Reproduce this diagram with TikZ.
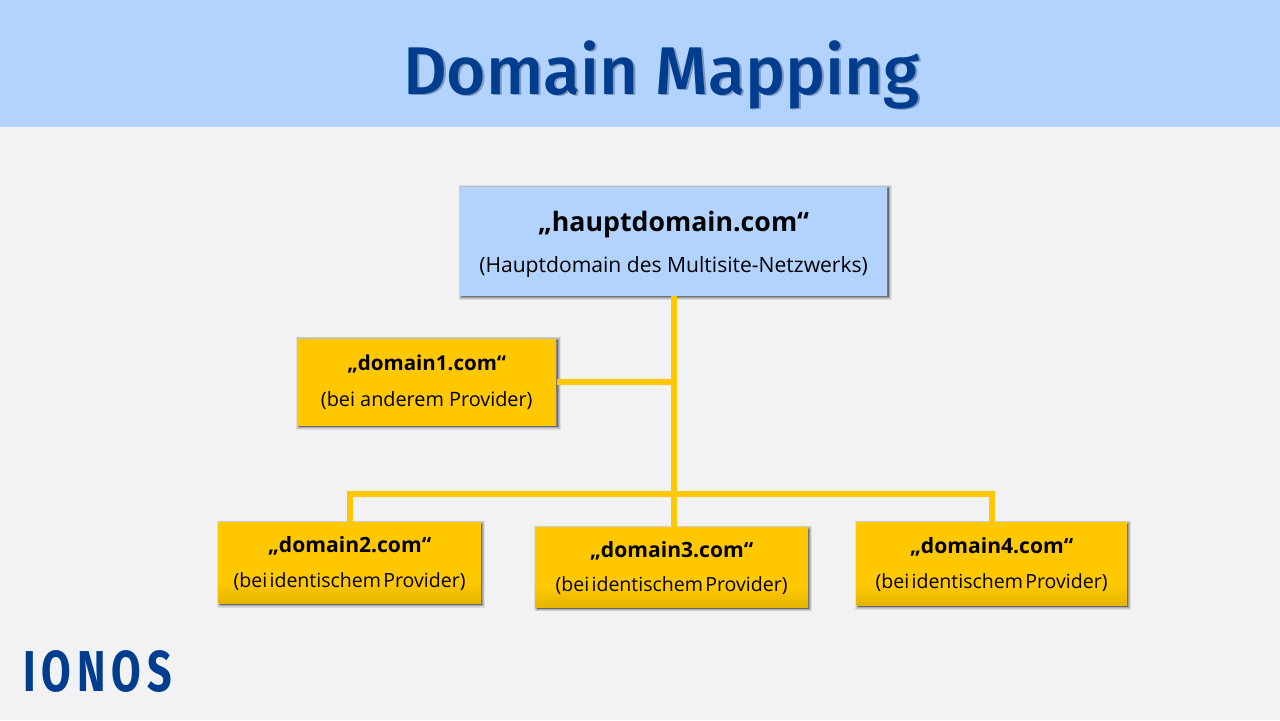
\documentclass[tikz,border=0pt]{standalone}
\usepackage{fontspec}
\usepackage{xcolor}
\usetikzlibrary{calc,positioning}
\setmainfont{Open Sans}
\newfontfamily\titlefont{Fira Sans Medium}
\newfontfamily\logofont[LetterSpace=14]{Fira Sans}
\newfontfamily\tightfont[WordSpace=0.45]{Open Sans}
\definecolor{pagegray}{HTML}{F2F2F4}
\definecolor{headblue}{HTML}{B3D3FF}
\definecolor{ionosblue}{HTML}{003D8F}
\definecolor{shadeblue}{HTML}{7F97BC}
\definecolor{linkyellow}{HTML}{FFC800}
\pgfdeclareverticalshading{yellowfade}{100bp}{color(0bp)=(linkyellow!90!black); color(25bp)=(linkyellow!90!black); color(38bp)=(linkyellow); color(100bp)=(linkyellow)}

\begin{document}
\begin{tikzpicture}[auto]
	\tikzstyle{softedge} = [preaction={draw=black, fill=black, opacity=0.08, line width=#1, transform canvas={xshift=0.04cm, yshift=-0.02cm}}]
	\tikzstyle{hauptbox} = [rectangle, softedge=0.14cm, softedge=0.11cm, softedge=0.08cm, softedge=0.05cm, softedge=0.02cm, fill=headblue, align=center, inner sep=0pt, text=black]
	\tikzstyle{block} = [hauptbox, fill=linkyellow]
	\tikzstyle{fadeblock} = [block, shade, shading=yellowfade]
	\tikzstyle{link} = [draw=linkyellow, line width=0.15cm]

	\useasboundingbox (0,0) rectangle (32,18);
	\fill [pagegray] (0,0) rectangle (32,18);
	\fill [headblue] (0,14.82) rectangle (32,18);

	\node [text=shadeblue, font=\titlefont\fontsize{48}{48}\selectfont] (titleshade) at (16.59,16.09) {Domain Mapping};
	\node [text=ionosblue, font=\titlefont\fontsize{48}{48}\selectfont] (title) at (16.54,16.13) {Domain Mapping};
	\node [text=ionosblue, font=\logofont\fontsize{41}{41}\selectfont\bfseries, xscale=0.745, inner sep=0pt] (ionos) at (2.44,1.2) {IONOS};

	\node [hauptbox, minimum width=10.68cm, minimum height=2.73cm] (haupt) at (16.84,11.96) {\rule{0pt}{18pt}\fontsize{19}{19}\selectfont\bfseries „hauptdomain.com“\\[12pt]\fontsize{15}{15}\selectfont (Hauptdomain des Multisite-Netzwerks)};

	\node [coordinate, below = 2.15cm of haupt.south] (j1) {};
	\node [coordinate, below = 2.8cm of j1] (j2) {};
	\node [coordinate, left = 8.1cm of j2] (j3) {};
	\node [coordinate, right = 7.95cm of j2] (j4) {};

	\node [block, minimum width=6.48cm, minimum height=2.18cm, left = 2.925cm of j1] (domain1) {\fontsize{14.6}{14.6}\selectfont\bfseries „domain1.com“\\[12pt]\fontsize{14.1}{14.1}\selectfont (bei anderem Provider)};
	\node [fadeblock, minimum width=6.55cm, minimum height=2.03cm, below = 0.7cm of j3] (domain2) {\fontsize{15}{15}\selectfont\bfseries „domain2.com“\\[11pt]\fontsize{13.9}{13.9}\tightfont (bei identischem Provider)};
	\node [fadeblock, minimum width=6.8cm, minimum height=2cm, below = 0.825cm of j2, xshift=-0.05cm] (domain3) {\fontsize{15}{15}\selectfont\bfseries „domain3.com“\\[11pt]\fontsize{13.9}{13.9}\tightfont (bei identischem Provider)};
	\node [fadeblock, minimum width=6.75cm, minimum height=2.08cm, below = 0.7cm of j4] (domain4) {\fontsize{15}{15}\selectfont\bfseries „domain4.com“\\[11pt]\fontsize{13.9}{13.9}\tightfont (bei identischem Provider)};

	\draw [link] (haupt.south) -- (j1) -- (j2) -- (domain3.north -| j2);
	\draw [link] (domain1.east) -- (j1);
	\draw [link] (domain2.north -| j3) -- (j3) -- (j4) -- (domain4.north -| j4);
\end{tikzpicture}
\end{document}
